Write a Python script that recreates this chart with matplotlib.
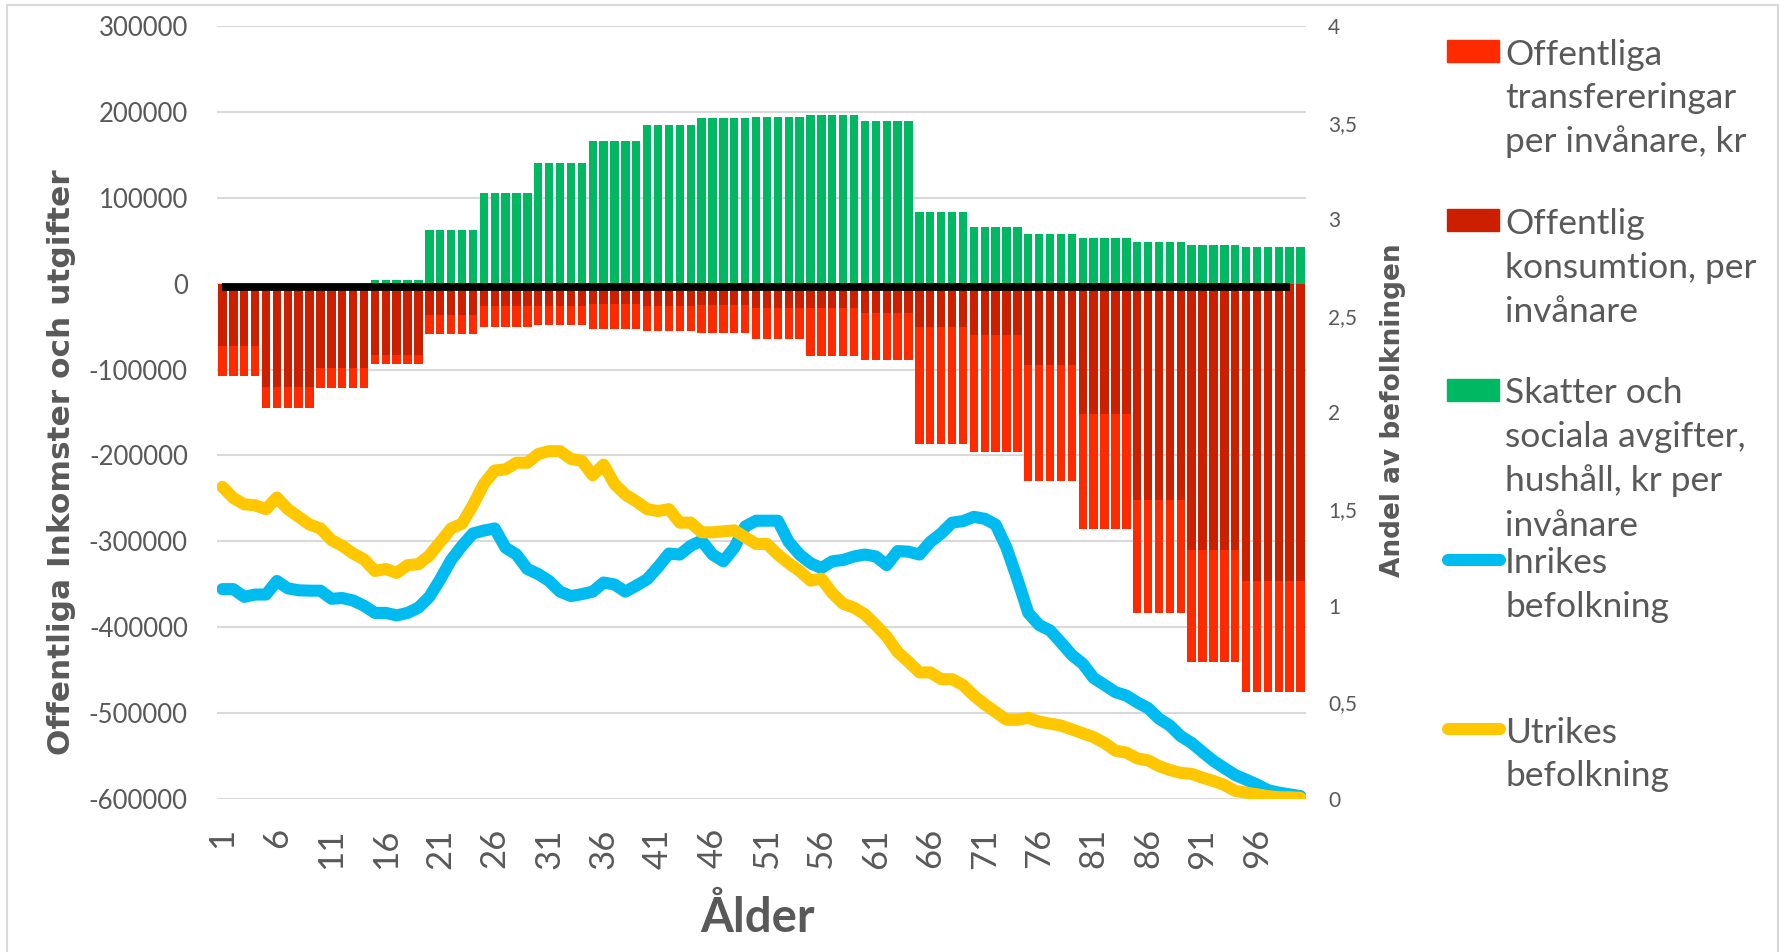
import numpy as np
import matplotlib
matplotlib.use("Agg")
import matplotlib.pyplot as plt
import matplotlib.transforms as mtransforms
from matplotlib.patches import Rectangle
from matplotlib.lines import Line2D

# ålder 1..100
alder = np.arange(1, 101)

# åldersgrupper (1-4, 5-9, ..., 90-94, 95-100)
grupp_storlek = [4] + [5] * 18 + [6]

# kr per invånare, per åldersgrupp
skatter = [0, 0, 0, 4000, 63000, 105000, 141000, 166500, 185000, 193000,
           193500, 196000, 189000, 84000, 66000, 58000, 53500, 48500, 45500, 43000]
konsumtion = [72000, 120000, 98000, 83000, 36000, 26500, 26500, 23500, 26000, 25000,
              28000, 28000, 34000, 50000, 60000, 95000, 152000, 252000, 310000, 346000]
transfereringar = [35000, 25000, 24000, 11000, 23000, 23500, 22000, 29500, 29000, 33000,
                   36000, 56000, 55000, 137000, 136000, 135000, 134000, 131000, 131000, 129000]

# andel av befolkningen (%), per ålder
inrikes = [1.086, 1.086, 1.046, 1.058, 1.058, 1.128, 1.09, 1.08, 1.078, 1.078,
           1.036, 1.04, 1.027, 1.0, 0.963, 0.963, 0.95, 0.963, 0.99, 1.046,
           1.137, 1.237, 1.31, 1.374, 1.389, 1.40, 1.30, 1.265, 1.19, 1.164,
           1.128, 1.073, 1.05, 1.06, 1.073, 1.12, 1.11, 1.073, 1.104, 1.137,
           1.20, 1.27, 1.265, 1.31, 1.337, 1.265, 1.23, 1.30, 1.41, 1.44,
           1.44, 1.44, 1.33, 1.265, 1.22, 1.195, 1.23, 1.237, 1.255, 1.265,
           1.255, 1.21, 1.283, 1.28, 1.265, 1.33, 1.374, 1.43, 1.438, 1.46,
           1.45, 1.42, 1.30, 1.137, 0.963, 0.90, 0.872, 0.81, 0.745, 0.70,
           0.626, 0.59, 0.553, 0.535, 0.50, 0.47, 0.416, 0.38, 0.325, 0.29,
           0.243, 0.197, 0.16, 0.124, 0.10, 0.075, 0.046, 0.033, 0.024, 0.015]
utrikes = [1.615, 1.557, 1.525, 1.52, 1.50, 1.56, 1.50, 1.46, 1.42, 1.40,
           1.34, 1.31, 1.27, 1.24, 1.18, 1.19, 1.17, 1.21, 1.215, 1.26,
           1.33, 1.40, 1.425, 1.52, 1.63, 1.70, 1.706, 1.74, 1.74, 1.785,
           1.80, 1.80, 1.76, 1.75, 1.675, 1.73, 1.63, 1.575, 1.54, 1.50,
           1.49, 1.50, 1.43, 1.43, 1.38, 1.38, 1.385, 1.39, 1.355, 1.32,
           1.32, 1.265, 1.22, 1.18, 1.13, 1.14, 1.065, 1.01, 0.99, 0.955,
           0.90, 0.84, 0.76, 0.71, 0.655, 0.655, 0.62, 0.62, 0.59, 0.535,
           0.49, 0.45, 0.41, 0.41, 0.42, 0.40, 0.39, 0.38, 0.36, 0.34,
           0.32, 0.29, 0.25, 0.24, 0.21, 0.20, 0.17, 0.15, 0.135, 0.13,
           0.11, 0.093, 0.073, 0.042, 0.033, 0.024, 0.015, 0.009, 0.009, 0.006]

# nollinjen (svart) går från 1 till 99
noll_x = alder[:99]
noll_y = np.zeros(99)

x_ticks = list(range(1, 97, 5))
y_ticks = list(range(-600000, 300001, 100000))
y2_ticks = [0, 0.5, 1, 1.5, 2, 2.5, 3, 3.5, 4]

RED = '#FF2A00'
DARKRED = '#CC1F00'
GREEN = '#00B861'
BLUE = '#00BBEF'
YELLOW = '#FFC700'
GRAY = '#595959'

W, H = 1781, 952
fig = plt.figure(figsize=(W / 100, H / 100), dpi=100)
fig.patch.set_facecolor('white')

ax = fig.add_axes([217 / W, 1 - 799 / H, (1306 - 217) / W, (799 - 26) / H])

sk = np.repeat(skatter, grupp_storlek)
ko = np.repeat(konsumtion, grupp_storlek)
tr = np.repeat(transfereringar, grupp_storlek)

bw = 0.77
ax.bar(alder, sk, width=bw, color=GREEN, zorder=2)
ax.bar(alder, -ko, width=bw, color=DARKRED, zorder=2)
ax.bar(alder, -tr, width=bw, bottom=-ko, color=RED, zorder=2)
# linjen ligger strax under nollan, som i Excel
nedflytt = mtransforms.offset_copy(ax.transData, fig=fig, x=0, y=-3.8, units='dots')
ax.plot(noll_x, noll_y, color='black', lw=5.6, solid_capstyle='butt', zorder=3,
        transform=nedflytt)

ax.set_xlim(0.5, 100.5)
ax.set_ylim(-600000, 300000)
ax.set_yticks(y_ticks)
ax.set_yticklabels([str(v) for v in y_ticks])
ax.set_xticks(x_ticks)
ax.set_xticklabels([str(v) for v in x_ticks], rotation=90, va='top')
ax.yaxis.grid(True, color='#D9D9D9', lw=1.5)
ax.set_axisbelow(True)
ax.tick_params(axis='y', length=0, pad=21, labelsize=18.5, labelcolor=GRAY)
ax.tick_params(axis='x', length=0, pad=21, labelsize=25, labelcolor=GRAY)
for lab in ax.get_yticklabels() + ax.get_xticklabels():
    lab.set_family('Lato')
for s in ax.spines.values():
    s.set_visible(False)

ax2 = ax.twinx()
ax2.plot(alder, inrikes, color=BLUE, lw=8.7, solid_joinstyle='round', solid_capstyle='round')
ax2.plot(alder, utrikes, color=YELLOW, lw=8.7, solid_joinstyle='round', solid_capstyle='round')
ax2.set_ylim(0, 4)
ax2.set_yticks(y2_ticks)
ax2.set_yticklabels([('%g' % v).replace('.', ',') for v in y2_ticks])
ax2.tick_params(axis='y', length=0, pad=16, labelsize=15, labelcolor=GRAY)
for lab in ax2.get_yticklabels():
    lab.set_family('Lato')
for s in ax2.spines.values():
    s.set_visible(False)

# axeltitlar
fig.text(62 / W, 1 - 462 / H, 'Offentliga Inkomster och utgifter', rotation=90,
         ha='center', va='center', fontsize=22.5, fontweight='bold', color=GRAY,
         family='DejaVu Sans')
fig.text(1393 / W, 1 - 410 / H, 'Andel av befolkningen', rotation=90,
         ha='center', va='center', fontsize=19, fontweight='bold', color=GRAY,
         family='DejaVu Sans')
fig.text(758 / W, 1 - 917 / H, 'Ålder', ha='center', va='center', fontsize=34,
         fontweight='bold', color=GRAY, family='Lato')

# förklaring
poster = [
    ('patch', RED, 51, ['Offentliga', 'transfereringar', 'per invånare, kr'], [55, 98, 142]),
    ('patch', DARKRED, 220, ['Offentlig', 'konsumtion, per', 'invånare'], [224, 268, 312]),
    ('patch', GREEN, 390, ['Skatter och', 'sociala avgifter,', 'hushåll, kr per', 'invånare'],
     [393, 437, 481, 526]),
    ('line', BLUE, 560, ['Inrikes', 'befolkning'], [563, 607]),
    ('line', YELLOW, 729, ['Utrikes', 'befolkning'], [733, 776]),
]
for kind, col, yc, rader, ys in poster:
    if kind == 'patch':
        fig.patches.append(Rectangle((1447 / W, 1 - (yc + 10.5) / H), 52 / W, 21 / H,
                                     transform=fig.transFigure, color=col))
    else:
        fig.lines.append(Line2D([1448 / W, 1500 / W], [1 - yc / H, 1 - yc / H],
                                transform=fig.transFigure, color=col, lw=8.7,
                                solid_capstyle='round'))
    for txt, y in zip(rader, ys):
        fig.text(1505 / W, 1 - y / H, txt, ha='left', va='center', fontsize=25.5,
                 color=GRAY, family='Lato')

# ram runt diagrammet
fig.patches.append(Rectangle((7 / W, -0.05), (1778 - 7) / W, 1.05 - 5 / H,
                             transform=fig.transFigure, fill=False,
                             edgecolor='#D9D9D9', lw=1.5))

fig.savefig('out.png', dpi=100)
